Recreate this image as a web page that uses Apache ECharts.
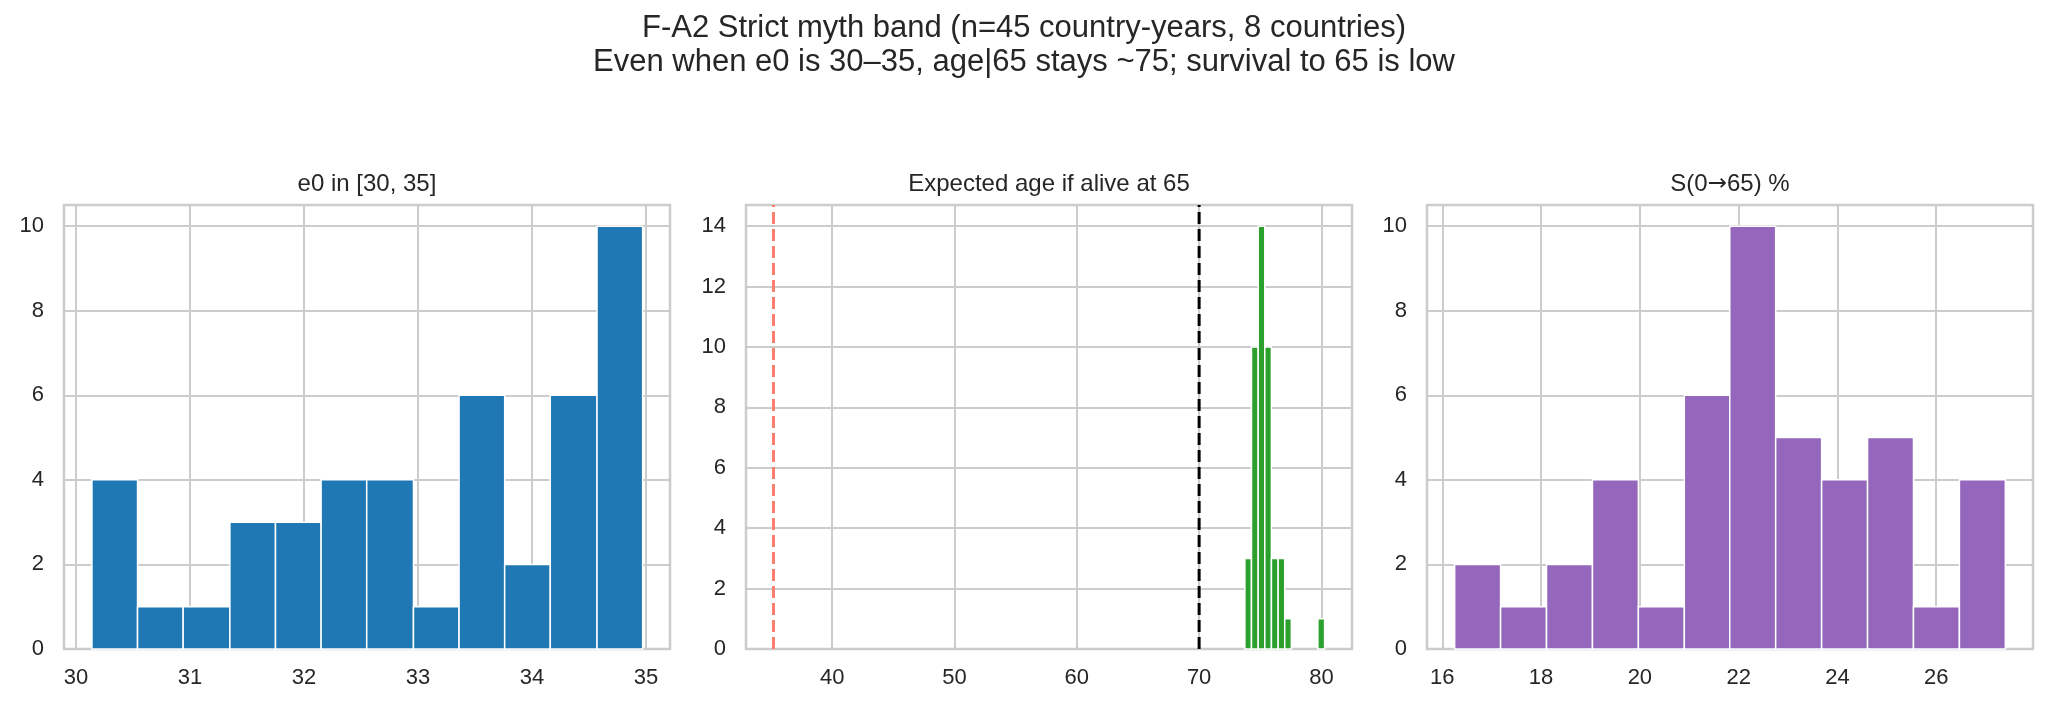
<!DOCTYPE html>
<html>
<head>
<meta charset="utf-8">
<script src="https://cdn.jsdelivr.net/npm/echarts@6/dist/echarts.min.js"></script>
<style>
  html, body { margin: 0; padding: 0; background: #fff; }
  #chart { width: 2048px; height: 709px; }
</style>
</head>
<body>
<div id="chart"></div>
<script>
// bin edges and counts
var e0Edges = [30.14, 30.54, 30.94, 31.35, 31.75, 32.15, 32.55, 32.96, 33.36, 33.76, 34.16, 34.57, 34.97];
var e0Counts = [4, 1, 1, 3, 3, 4, 4, 1, 6, 2, 6, 10];

var ageEdges = [73.74, 74.28, 74.83, 75.37, 75.91, 76.46, 77.00, 77.54, 78.08, 78.63, 79.17, 79.71, 80.26];
var ageCounts = [3, 10, 14, 10, 3, 3, 1, 0, 0, 0, 0, 1];

var survEdges = [16.25, 17.18, 18.11, 19.04, 19.97, 20.90, 21.82, 22.75, 23.68, 24.61, 25.54, 26.47, 27.40];
var survCounts = [2, 1, 2, 4, 1, 6, 10, 5, 4, 5, 1, 4];

// dashed reference lines in the middle panel
var refRed = 35.2;
var refBlack = 70;

var titles = ['e0 in [30, 35]', 'Expected age if alive at 65', 'S(0{arr|\u2192}65) %'];
var xStep = [1, 10, 2];
var xRange = [[29.895, 35.21], [32.95, 82.5], [15.69, 27.96]];
var yRange = [[0, 10.5], [0, 14.7], [0, 10.5]];
var colors = ['#1f77b4', '#2ca02c', '#9467bd'];

var FONT = '"Liberation Sans", Arial, "DejaVu Sans", sans-serif';
var TXT = '#262626';
var GRID = '#cccccc';

function binsToData(edges, counts) {
  var out = [];
  for (var i = 0; i < counts.length; i++) {
    if (counts[i] > 0) out.push([edges[i], edges[i + 1], counts[i]]);
  }
  return out;
}

function histRender(color) {
  return function(params, api) {
    var p0 = api.coord([api.value(0), api.value(2)]);
    var p1 = api.coord([api.value(1), 0]);
    return {
      type: 'rect',
      shape: { x: p0[0], y: p0[1], width: p1[0] - p0[0], height: p1[1] - p0[1] },
      style: { fill: color, stroke: '#ffffff', lineWidth: 1.5 }
    };
  };
}

function tickFormatter(step) {
  return function(v) {
    var r = v / step;
    if (Math.abs(r - Math.round(r)) > 1e-6) return '';
    return String(Math.round(v));
  };
}

var lefts = [64, 746, 1427];
var gridW = 606, gridTop = 205, gridH = 444;

var grids = [], xAxes = [], yAxes = [], series = [], titleList = [];

// figure title
titleList.push({
  text: 'F-A2 Strict myth band (n=45 country-years, 8 countries)\nEven when e0 is 30\u201335, age|65 stays ~75; survival to 65 is low',
  left: 'center',
  top: 12,
  padding: 0,
  textStyle: { fontFamily: FONT, fontSize: 31, fontWeight: 'normal', color: TXT, lineHeight: 33.5, align: 'center' }
});

var dataSets = [binsToData(e0Edges, e0Counts), binsToData(ageEdges, ageCounts), binsToData(survEdges, survCounts)];

for (var i = 0; i < 3; i++) {
  grids.push({ left: lefts[i], top: gridTop, width: gridW, height: gridH, show: true,
    borderColor: GRID, borderWidth: 2.5, backgroundColor: '#ffffff' });

  titleList.push({
    text: titles[i],
    left: lefts[i] + gridW / 2,
    top: 172,
    padding: 0,
    textAlign: 'center',
    textStyle: { fontFamily: FONT, fontSize: 24, fontWeight: 'normal', color: TXT,
      rich: { arr: { fontFamily: '"DejaVu Sans", sans-serif', fontSize: 23, color: TXT } } }
  });

  xAxes.push({
    type: 'value', gridIndex: i,
    min: xRange[i][0], max: xRange[i][1],
    splitNumber: 5,
    axisLine: { show: false }, axisTick: { show: false },
    axisLabel: { fontFamily: FONT, fontSize: 22, color: TXT, margin: 18,
      showMinLabel: false, showMaxLabel: false, formatter: tickFormatter(xStep[i]) },
    splitLine: { show: true, lineStyle: { color: GRID, width: 2 } }
  });

  yAxes.push({
    type: 'value', gridIndex: i,
    min: yRange[i][0], max: yRange[i][1], interval: 2,
    axisLine: { show: false }, axisTick: { show: false },
    axisLabel: { fontFamily: FONT, fontSize: 22, color: TXT, margin: 20,
      showMaxLabel: false, formatter: tickFormatter(2) },
    splitLine: { show: true, lineStyle: { color: GRID, width: 2 } }
  });

  series.push({
    type: 'custom', xAxisIndex: i, yAxisIndex: i,
    renderItem: histRender(colors[i]),
    encode: { x: [0, 1], y: 2 },
    data: dataSets[i],
    silent: true
  });
}

// reference lines on middle panel
series.push({
  type: 'line', xAxisIndex: 1, yAxisIndex: 1, silent: true, showSymbol: false,
  data: [[refRed, yRange[1][0]], [refRed, yRange[1][1]]],
  lineStyle: { color: '#fa7f6f', width: 3, type: [12, 5] }
});
series.push({
  type: 'line', xAxisIndex: 1, yAxisIndex: 1, silent: true, showSymbol: false,
  data: [[refBlack, yRange[1][0]], [refBlack, yRange[1][1]]],
  lineStyle: { color: '#000000', width: 3, type: [12, 5] }
});

var chart = echarts.init(document.getElementById('chart'));
chart.setOption({
  animation: false,
  backgroundColor: '#ffffff',
  title: titleList,
  grid: grids,
  xAxis: xAxes,
  yAxis: yAxes,
  series: series
});
</script>
</body>
</html>
